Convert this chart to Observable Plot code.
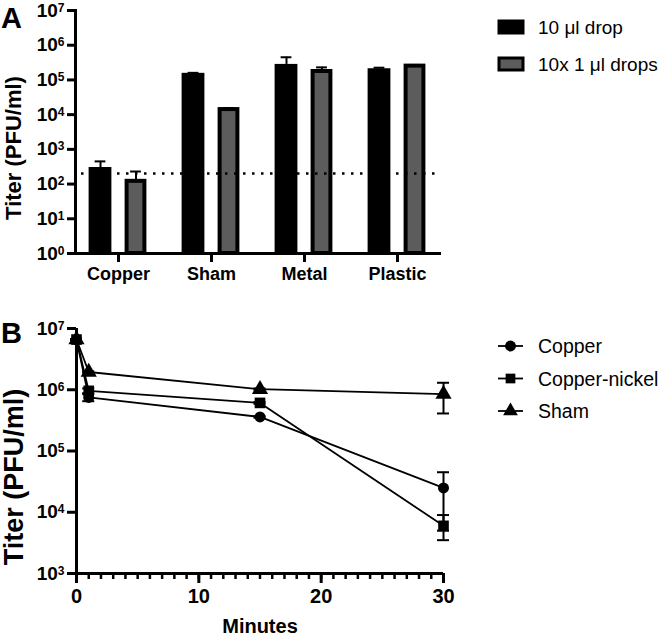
<!DOCTYPE html>
<html><head><meta charset="utf-8">
<script src="https://cdn.jsdelivr.net/npm/d3@7"></script>
<script src="https://cdn.jsdelivr.net/npm/@observablehq/plot@0.6"></script>
<style>
body{margin:0;background:#fff;}
#root{position:relative;width:666px;height:635px;font-family:"Liberation Sans",Arial,sans-serif;color:#000;}
.panel{position:absolute;left:0;}
.plabel{position:absolute;font-weight:bold;font-size:29px;line-height:1;}
#pa g[aria-label="y-axis label"] text{font-size:22px;}
#pb g[aria-label="y-axis label"] text{font-size:27px;}
#pb g[aria-label="x-axis label"] text{font-size:20px;}
</style></head><body><div id="root"></div>
<script>
// ---------- Panel A data ----------
const categories = ["Copper", "Sham", "Metal", "Plastic"];
const seriesA = ["10 μl drop", "10x 1 μl drops"];
const dropMean   = [300, 1.55e5, 2.8e5, 2.1e5];
const dropUpper  = [450, 1.6e5, 4.5e5, 2.25e5];
const dropsMean  = [120, 1.4e4, 1.75e5, 2.5e5];
const dropsUpper = [230, 1.55e4, 2.3e5, 2.7e5];
const detectionLimit = 200;
const yTicksA = [1, 10, 100, 1e3, 1e4, 1e5, 1e6, 1e7];

// ---------- Panel B data ----------
const minutes = [0, 1, 15, 30];
const seriesB = ["Copper", "Copper-nickel", "Sham"];
const copperMean = [6.6e6, 7.5e5, 3.6e5, 2.5e4];
const copperLow  = [6.6e6, 6.5e5, 3.5e5, 5e3];
const copperHigh = [6.6e6, 8.5e5, 3.7e5, 4.5e4];
const nickelMean = [6.6e6, 9.6e5, 6.1e5, 6e3];
const nickelLow  = [6.6e6, 8.8e5, 5.9e5, 3.5e3];
const nickelHigh = [6.6e6, 1.05e6, 6.3e5, 9e3];
const shamMean = [6.6e6, 1.95e6, 1.02e6, 8.5e5];
const shamLow  = [6.6e6, 1.9e6, 1.0e6, 4.1e5];
const shamHigh = [6.6e6, 2.0e6, 1.05e6, 1.3e6];
const xMajorB = [0, 10, 20, 30];
const xMinorB = d3.range(0, 31, 1);
const yTicksB = [1e3, 1e4, 1e5, 1e6, 1e7];

const FONT = '"Liberation Sans", Arial, sans-serif';
const GRAY = "#5c5c5c";
const powFmt = d => "10^" + Math.round(Math.log10(d));

function superscript(svg) {
  d3.select(svg).selectAll('g[aria-label="y-axis tick label"] text').each(function () {
    const s = this.textContent;
    if (!s.includes("^")) return;
    const [base, exp] = s.split("^");
    const t = d3.select(this);
    t.text(null);
    t.append("tspan").text(base);
    t.append("tspan").attr("dy", "-0.42em").attr("font-size", "12px").text(exp);
  });
}
function shiftLabel(svg, dy) {
  const g = d3.select(svg).select('g[aria-label="y-axis label"]');
  if (!g.empty()) g.attr("transform", (g.attr("transform") || "") + ` translate(0,${dy})`);
}

// ---------- Panel A ----------
const dataA = [];
categories.forEach((c, i) => {
  dataA.push({category: c, series: seriesA[0], value: dropMean[i], upper: dropUpper[i]});
  dataA.push({category: c, series: seriesA[1], value: dropsMean[i], upper: dropsUpper[i]});
});
const dropData = dataA.filter(d => d.series === seriesA[0]);
const dropsData = dataA.filter(d => d.series === seriesA[1]);

const plotA = Plot.plot({
  width: 460, height: 300,
  marginLeft: 75, marginRight: 19, marginTop: 10, marginBottom: 47,
  style: {fontFamily: FONT, fontSize: "19px", fontWeight: "bold", color: "#000", background: "transparent"},
  x: {type: "band", domain: categories, paddingInner: 0.2, paddingOuter: 0.047, axis: null},
  y: {type: "log", domain: [1, 1e7], axis: null},
  marks: [
    Plot.ruleX(dropData, {x: "category", y1: "value", y2: "upper", dx: -18, strokeWidth: 2}),
    Plot.tickY(dropData, {x: "category", y: "upper", insetLeft: 13.6, insetRight: 49.6, strokeWidth: 2}),
    Plot.ruleX(dropsData, {x: "category", y1: "value", y2: "upper", dx: 17.5, strokeWidth: 2}),
    Plot.tickY(dropsData, {x: "category", y: "upper", insetLeft: 49.1, insetRight: 14.1, strokeWidth: 2}),
    Plot.barY(dropData, {x: "category", y1: 1, y2: "value", fill: "#000", insetLeft: 7.6, insetRight: 43.6}),
    Plot.barY(dropsData, {x: "category", y1: 1, y2: "value", fill: GRAY, stroke: "#000", strokeWidth: 4, insetLeft: 45.6, insetRight: 10.6}),
    Plot.ruleY([detectionLimit], {strokeDasharray: "2.5,6.5", strokeWidth: 2.5, insetLeft: 6, insetRight: 6}),
    Plot.ruleY([1], {strokeWidth: 3}),
    Plot.frame({anchor: "left", strokeWidth: 3}),
    Plot.axisY({ticks: yTicksA, tickFormat: powFmt, tickSize: 8, tickPadding: 3, strokeWidth: 3,
      label: "Titer (PFU/ml)", labelAnchor: "center", labelArrow: "none", labelOffset: 70}),
    Plot.axisX({tickSize: 9, tickPadding: 5, strokeWidth: 3, fontSize: 18, label: null})
  ]
});
superscript(plotA);
shiftLabel(plotA, 16);

// ---------- Panel B ----------
const dataB = [];
const meansB = [copperMean, nickelMean, shamMean];
const lowsB = [copperLow, nickelLow, shamLow];
const highsB = [copperHigh, nickelHigh, shamHigh];
seriesB.forEach((s, k) => minutes.forEach((m, i) => dataB.push({
  series: s, minute: m, value: meansB[k][i], low: lowsB[k][i], high: highsB[k][i]
})));
const symbolOf = {"Copper": "circle", "Copper-nickel": "square", "Sham": "triangle"};

const plotB = Plot.plot({
  width: 460, height: 325,
  marginLeft: 76, marginRight: 17, marginTop: 18, marginBottom: 62,
  style: {fontFamily: FONT, fontSize: "19px", fontWeight: "bold", color: "#000", background: "transparent"},
  x: {domain: [0, 30], axis: null},
  y: {type: "log", domain: [1e3, 1e7], axis: null},
  marks: [
    Plot.ruleX(dataB, {x: "minute", y1: "low", y2: "high", strokeWidth: 2}),
    Plot.ruleY(dataB, {x1: "minute", x2: "minute", y: "high", insetLeft: -6, insetRight: -6, strokeWidth: 2}),
    Plot.ruleY(dataB, {x1: "minute", x2: "minute", y: "low", insetLeft: -6, insetRight: -6, strokeWidth: 2}),
    Plot.line(dataB, {x: "minute", y: "value", z: "series", stroke: "#000", strokeWidth: 1.8}),
    Plot.dot(dataB.filter(d => d.series === "Sham"), {x: "minute", y: "value", symbol: "triangle", r: 6, fill: "#000"}),
    Plot.dot(dataB.filter(d => d.series === "Copper"), {x: "minute", y: "value", symbol: "circle", r: 5.5, fill: "#000"}),
    Plot.dot(dataB.filter(d => d.series === "Copper-nickel"), {x: "minute", y: "value", symbol: "square", r: 6, fill: "#000"}),
    Plot.ruleY([1e3], {strokeWidth: 3}),
    Plot.ruleX([0], {strokeWidth: 3}),
    Plot.axisY({ticks: yTicksB, tickFormat: powFmt, tickSize: 9, tickPadding: 3, strokeWidth: 3,
      label: "Titer (PFU/ml)", labelAnchor: "center", labelArrow: "none", labelOffset: 73}),
    Plot.axisX({ticks: xMinorB, tickSize: 6, strokeWidth: 2.5, tickFormat: () => "", label: null}),
    Plot.axisX({ticks: xMajorB, tickSize: 10, tickPadding: 5, strokeWidth: 3, fontSize: 20,
      label: "Minutes", labelAnchor: "center", labelArrow: "none", labelOffset: 59})
  ]
});
superscript(plotB);
shiftLabel(plotB, 26);

// ---------- Layout ----------
const root = document.getElementById("root");
const pa = document.createElement("div"); pa.className = "panel"; pa.id = "pa"; pa.style.top = "0px"; pa.appendChild(plotA); root.appendChild(pa);
const pb = document.createElement("div"); pb.className = "panel"; pb.id = "pb"; pb.style.top = "310px"; pb.appendChild(plotB); root.appendChild(pb);

const la = document.createElement("div"); la.className = "plabel"; la.textContent = "A"; la.style.left = "1px"; la.style.top = "4px"; root.appendChild(la);
const lb = document.createElement("div"); lb.className = "plabel"; lb.textContent = "B"; lb.style.left = "1px"; lb.style.top = "319px"; root.appendChild(lb);

// Legend A
const legA = d3.select(root).append("svg").attr("width", 180).attr("height", 90)
  .style("position", "absolute").style("left", "490px").style("top", "0px")
  .style("font-family", FONT).style("font-size", "19px");
const legAItems = [
  {label: seriesA[0], fill: "#000", cy: 27},
  {label: seriesA[1], fill: GRAY, cy: 64}
];
legAItems.forEach(d => {
  legA.append("rect").attr("x", 9).attr("y", d.cy - 6).attr("width", 24).attr("height", 12)
    .attr("fill", d.fill).attr("stroke", "#000").attr("stroke-width", 3);
  legA.append("text").attr("x", 48).attr("y", d.cy + 7).text(d.label);
});

// Legend B
const legB = d3.select(root).append("svg").attr("width", 180).attr("height", 110)
  .style("position", "absolute").style("left", "490px").style("top", "320px")
  .style("font-family", FONT).style("font-size", "19.5px");
seriesB.forEach((s, i) => {
  const cy = 26 + i * 32.5;
  legB.append("line").attr("x1", 8).attr("x2", 33).attr("y1", cy).attr("y2", cy).attr("stroke", "#000").attr("stroke-width", 1.8);
  const sym = {circle: d3.symbolCircle, square: d3.symbolSquare, triangle: d3.symbolTriangle}[symbolOf[s]];
  legB.append("path").attr("d", d3.symbol(sym, Math.PI * 30)()).attr("transform", `translate(20.5,${cy})`).attr("fill", "#000");
  legB.append("text").attr("x", 48).attr("y", cy + 7).text(s);
});
</script>
</body></html>
